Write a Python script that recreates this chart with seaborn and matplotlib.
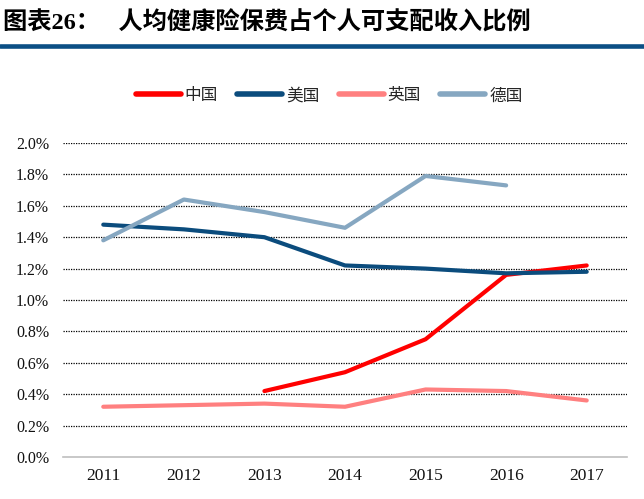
import matplotlib
matplotlib.use('Agg')
import matplotlib.pyplot as plt
from matplotlib.lines import Line2D
import seaborn as sns
import numpy as np
import pandas as pd

years = [2011, 2012, 2013, 2014, 2015, 2016, 2017]
china = [np.nan, np.nan, 0.42, 0.54, 0.75, 1.16, 1.22]
usa = [1.48, 1.45, 1.40, 1.22, 1.20, 1.17, 1.18]
uk = [0.32, 0.33, 0.34, 0.32, 0.43, 0.42, 0.36]
germany = [1.38, 1.64, 1.56, 1.46, 1.79, 1.73, np.nan]
series_names = ['中国', '美国', '英国', '德国']
palette = {'中国': '#ff0000', '美国': '#0b4c7d', '英国': '#ff8080', '德国': '#86a7c1'}

df = pd.DataFrame({'year': years, '中国': china, '美国': usa, '英国': uk, '德国': germany})
long_df = df.melt(id_vars='year', var_name='country', value_name='ratio').dropna()

sns.set_style('white')
plt.rcParams['font.family'] = ['Noto Sans CJK SC', 'DejaVu Sans']

fig = plt.figure(figsize=(6.44, 4.99), dpi=100)
ax = fig.add_axes([0.0978, 0.0842, 0.8758, 0.6292])

sns.lineplot(data=long_df, x='year', y='ratio', hue='country', hue_order=series_names,
             palette=palette, linewidth=3.0, ax=ax, legend=False)

ax.set_xlim(2010.5, 2017.5)
ax.set_ylim(0, 2.0)
ax.set_yticks(np.arange(0, 2.01, 0.2))
ax.set_yticklabels([f'{v:.1f}%' for v in np.arange(0, 2.01, 0.2)],
                   family='Liberation Serif', fontsize=11.5, color='#111111')
ax.set_xticks(years)
ax.set_xticklabels([str(y) for y in years], family='Liberation Serif', fontsize=12.5,
                   color='#111111')
ax.tick_params(axis='both', length=0)
ax.tick_params(axis='y', pad=10)
ax.tick_params(axis='x', pad=8)
ax.set_xlabel('')
ax.set_ylabel('')

# dotted gridlines, the zero line is the grey spine
for v in np.arange(0.2, 2.01, 0.2):
    ax.axhline(v, color='black', linestyle=(0, (1, 1)), linewidth=0.9, zorder=0)

for side in ['top', 'right', 'left']:
    ax.spines[side].set_visible(False)
ax.spines['bottom'].set_color('#bfbfbf')
ax.spines['bottom'].set_linewidth(1.2)

handles = [Line2D([0], [0], color=palette[n], linewidth=4, solid_capstyle='round')
           for n in series_names]
fig.legend(handles, series_names, loc='center', bbox_to_anchor=(0.511, 0.808), ncol=4,
           frameon=False, handlelength=2.7, handletextpad=0.25, columnspacing=1.15,
           prop={'family': ['Noto Sans CJK SC'], 'size': 12, 'weight': 'light'})

fig.text(0.005, 0.954, '图表26：   人均健康险保费占个人可支配收入比例', fontsize=17.5,
         fontweight='bold', va='center', ha='left', color='black',
         family=['Liberation Serif', 'Noto Sans CJK SC'])
fig.add_artist(Line2D([0, 1], [0.907, 0.907], color='#0b4f85', linewidth=3.3,
                      transform=fig.transFigure))

fig.savefig('out.png', dpi=100)
plt.close()
